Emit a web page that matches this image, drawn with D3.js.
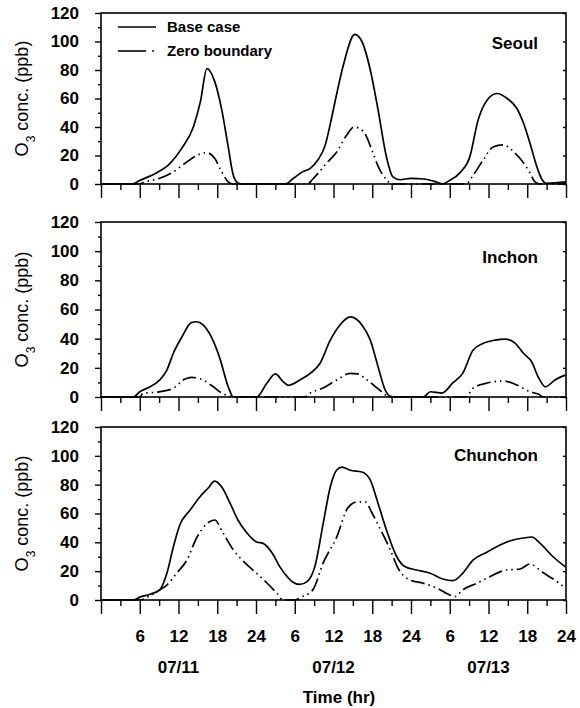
<!DOCTYPE html>
<html>
<head>
<meta charset="utf-8">
<script src="https://cdn.jsdelivr.net/npm/d3@7"></script>
<style>
  body { margin: 0; background: #fff; }
  svg { display: block; font-family: "Liberation Sans", Arial, sans-serif; }
  .axis path { display: none; }
  .axis line { stroke: #000; stroke-width: 1.4; }
  .axis text { font-size: 17px; font-weight: bold; fill: #000; }
</style>
</head>
<body>
<svg id="chart" width="580" height="708"></svg>
<script>
// hour of the 3-day run (0 = 07/11 00h), O3 in ppb
const seoulBase = [[0,0],[4.8,0],[6,2.5],[8.7,8],[10.7,14.5],[12.5,25],[14.3,40],[15.4,58],[16.4,81],[17.6,72],[18.7,52],[19.7,26],[20.5,6],[21.3,0.5],[22,0],[28.5,0],[29.8,4],[31.2,8.5],[32.4,11],[33.6,17],[34.7,27],[35.5,42],[36.2,57],[37.5,83],[39.3,105],[40.4,100],[41.7,80],[42.9,52],[44.2,19],[45.2,5],[46.3,3],[48,4],[50,3.5],[51.5,2],[53,0],[53.6,1.5],[55.6,8],[57.1,19],[58.4,45],[59.8,59],[61.3,63.5],[62.9,60],[64.4,53],[65.4,43],[66.4,29],[67.5,12],[68.3,3],[69,0.5],[72,1.5]];
const seoulZero = [[0,0],[6,0],[6.5,1],[9.1,4],[11.2,8.5],[13.3,15.5],[15.3,21],[16.4,22],[17.6,18],[18.7,8.5],[19.7,1.5],[20.5,0],[32,0],[32.7,3],[33.6,7.5],[35,15],[36.5,22.5],[38,34],[39.2,40],[40.6,37],[42.1,22],[42.9,12.5],[44.2,3],[45,0],[56.5,0],[57.6,6],[59.2,17],[60.7,26],[62.3,27.5],[63.8,23],[65.4,15],[66.4,8],[67.2,1.5],[68,0],[72,0]];

const inchonBase = [[0,0],[5,0],[6,3.6],[7.1,6],[9.1,11.7],[10.2,18.5],[11.2,30],[12.5,41],[14,51],[14.8,51.6],[15.8,49.4],[17.1,41],[18.4,26.5],[19.7,7],[20.5,0],[24.1,0],[25.7,9.6],[27,15.8],[28.2,10.5],[29,8],[30.8,11.7],[32.4,16.2],[33.9,23],[35.5,39],[37,49.4],[38.6,54.9],[40.4,49.4],[41.7,39],[42.9,20.8],[44,4.8],[44.8,0.5],[45.5,0],[49.9,0],[51,3.6],[52.8,2.7],[54.5,9.8],[56,16.2],[57.6,32],[59.2,36.8],[61,39],[62.6,39.7],[64.1,37],[65.4,30],[66.7,24],[67.7,13.7],[68.8,7],[70.3,11.7],[71.9,15]];
const inchonZero = [[0,0],[6,0],[6.5,2.5],[9,3.5],[11.2,6],[13,12.3],[14,13.5],[15.8,11.7],[17.4,7],[18.7,2.7],[20,0.5],[21,0],[31.5,0],[32.4,2.7],[34.3,6],[36.5,11.7],[38.6,16.2],[39.8,15.8],[41.2,11.7],[42.4,7.5],[43.7,2.7],[44.6,0],[56.5,0],[57.6,6],[59.8,9.6],[62.3,11],[64.4,8.2],[66.4,3.6],[67.7,2],[68.5,0],[72,0]];

const chunchonBase = [[0,0],[5,0],[6,2],[7.6,4],[9.1,7],[10.2,18.5],[11.2,36.8],[12.2,52],[13.8,62.4],[15.3,71.5],[16.6,77.7],[17.6,82.5],[18.7,78.4],[20,67],[21.2,55.5],[22.6,46.5],[24.1,40.2],[25.1,39.3],[26.5,32.6],[27.7,23],[29,15.3],[29.6,12.7],[30.8,10.8],[31.9,12.7],[33.1,23],[34.4,53],[35.5,78.4],[36.5,90.2],[37.3,92.2],[38.6,90],[40.4,88.8],[41.7,83.2],[42.9,67],[44.2,48.6],[45.8,30],[47.1,23],[48.9,20.8],[51,18.5],[52.5,15.3],[54.5,13.4],[56,18.5],[57.6,27.7],[59.8,33.3],[61.8,38.2],[63.8,41.6],[65.4,43],[66.7,43.7],[68,39.3],[70,30],[71.9,23]];
const chunchonZero = [[0,0],[6,0],[7.6,3],[9.1,7],[10.2,10.4],[11.7,18.5],[13.3,27.7],[14.8,43],[16.4,53],[17.6,55.5],[18.9,46.5],[20.5,34.7],[22.3,25.7],[24.1,18.5],[25.7,11.8],[27.2,4.9],[28.2,0],[30,0],[31,2],[32.8,7],[34.4,25.7],[36.5,43.7],[38.2,63.8],[39.6,68],[40.9,68],[42,60],[43.3,48.6],[44.8,34.7],[46,22],[47.8,13.9],[49.9,11.6],[52,8.3],[54,3.5],[54.8,2.3],[56,7],[58.2,11.6],[60.2,16.2],[62.8,20.8],[64.9,21.5],[66.4,25],[68.3,19.4],[70.9,11.8],[71.7,9]];

const yTicks = [0, 20, 40, 60, 80, 100, 120];
const hourTicks = d3.range(0, 73, 6);
const dayLabels = ['07/11', '07/12', '07/13'];
const dayCentres = [12, 36, 60];
const seriesNames = ['Base case', 'Zero boundary'];

const svg = d3.select('#chart');
const left = 101, right = 566;
const dash = '14,4,1.5,4,1.5,4';

const panels = [
  {name: 'Seoul', top: 13, bottom: 184, base: seoulBase, zero: seoulZero, nameY: 49},
  {name: 'Inchon', top: 222, bottom: 397, base: inchonBase, zero: inchonZero, nameY: 263},
  {name: 'Chunchon', top: 427, bottom: 600, base: chunchonBase, zero: chunchonZero, nameY: 461}
];

const x = d3.scaleLinear().domain([0, 72]).range([left, right]);

panels.forEach(function(p, i) {
  const y = d3.scaleLinear().domain([0, 120]).range([p.bottom, p.top]);
  const g = svg.append('g');

  // x ticks (major every 6 h, minor every 3 h)
  g.append('g').attr('class', 'axis')
    .attr('transform', `translate(0,${p.bottom})`)
    .call(d3.axisBottom(x).tickValues(d3.range(3, 72, 6)).tickSize(6).tickFormat(''));
  g.append('g').attr('class', 'axis')
    .attr('transform', `translate(0,${p.bottom})`)
    .call(d3.axisBottom(x).tickValues(hourTicks).tickSize(14).tickPadding(16)
      .tickFormat(function(h) {
        if (i < 2 || h === 0) return '';
        return h % 24 === 0 ? 24 : h % 24;
      }));

  // y ticks
  g.append('g').attr('class', 'axis')
    .attr('transform', `translate(${left},0)`)
    .call(d3.axisLeft(y).tickValues(yTicks).tickSize(6).tickPadding(16));
  g.append('g').attr('class', 'axis')
    .attr('transform', `translate(${left},0)`)
    .call(d3.axisLeft(y).tickValues(d3.range(10, 120, 20)).tickSize(3).tickFormat(''));
  g.append('g').attr('class', 'axis')
    .attr('transform', `translate(${right},0)`)
    .call(d3.axisLeft(y).tickValues(yTicks).tickSize(3).tickFormat(''));

  const line = d3.line()
    .x(d => x(d[0]))
    .y(d => y(d[1]))
    .curve(d3.curveMonotoneX);

  g.append('path').datum(p.zero)
    .attr('d', line)
    .attr('fill', 'none').attr('stroke', '#000').attr('stroke-width', 1.7)
    .attr('stroke-dasharray', dash);
  g.append('path').datum(p.base)
    .attr('d', line)
    .attr('fill', 'none').attr('stroke', '#000').attr('stroke-width', 1.7);

  // frame
  g.append('rect')
    .attr('x', left).attr('y', p.top)
    .attr('width', right - left).attr('height', p.bottom - p.top)
    .attr('fill', 'none').attr('stroke', '#000').attr('stroke-width', 1.6);

  g.append('text')
    .attr('x', 538).attr('y', p.nameY)
    .attr('text-anchor', 'end')
    .style('font-size', '17px').style('font-weight', 'bold')
    .text(p.name);

  // y axis title
  const ty = g.append('text')
    .attr('transform', `translate(28,${(p.top + p.bottom) / 2}) rotate(-90)`)
    .attr('text-anchor', 'middle')
    .style('font-size', '18px');
  ty.append('tspan').text('O');
  ty.append('tspan').attr('baseline-shift', 'sub').style('font-size', '12px').text('3');
  ty.append('tspan').text(' conc. (ppb)');

  // legend in top panel
  if (i === 0) {
    seriesNames.forEach(function(s, k) {
      const ly = 27 + k * 24;
      g.append('line')
        .attr('x1', 118).attr('x2', k === 0 ? 156 : 146)
        .attr('y1', ly).attr('y2', ly)
        .attr('stroke', '#000').attr('stroke-width', 1.6);
      if (k === 1) {
        g.append('circle').attr('cx', 153).attr('cy', ly).attr('r', 0.9).attr('fill', '#000');
      }
      g.append('text')
        .attr('x', 167).attr('y', ly + 5)
        .style('font-size', '15px').style('font-weight', 'bold')
        .text(s);
    });
  }
});

// day labels and axis title
svg.selectAll('.day')
  .data(dayLabels)
  .enter()
  .append('text')
  .attr('class', 'day')
  .attr('x', (d, i) => x(dayCentres[i]))
  .attr('y', 673)
  .attr('text-anchor', 'middle')
  .style('font-size', '17px').style('font-weight', 'bold')
  .text(d => d);

svg.append('text')
  .attr('x', 339).attr('y', 703)
  .attr('text-anchor', 'middle')
  .style('font-size', '17px').style('font-weight', 'bold')
  .text('Time (hr)');
</script>
</body>
</html>
